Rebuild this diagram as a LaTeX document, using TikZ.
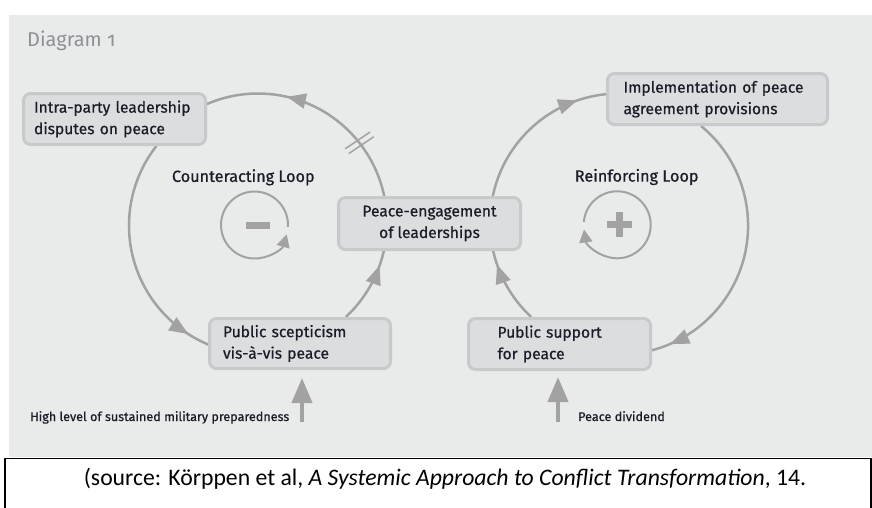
\documentclass[tikz,border=0pt]{standalone}
\usepackage{fontspec}
\setmainfont{Fira Sans}
\newfontfamily\factorfont{Fira Sans}[FakeBold=0.6]
\newfontfamily\captionfont{Carlito}
\usepackage{xcolor}
\usetikzlibrary{arrows.meta,decorations.markings,positioning}

\definecolor{panelgray}{HTML}{E9EAEA}
\definecolor{boxfill}{HTML}{DCDDDF}
\definecolor{boxline}{HTML}{C8C9CB}
\definecolor{loopgray}{HTML}{A2A2A2}
\definecolor{titlegray}{HTML}{8D9196}
\definecolor{inkblack}{HTML}{1C1C28}

\pgfdeclarelayer{background}
\pgfsetlayers{background,main}

\begin{document}
\begin{tikzpicture}[x=1pt,y=1pt,
    factor/.style={draw=boxline, line width=3pt, fill=boxfill, rounded corners=7pt,
        align=left, inner xsep=1pt, text=inkblack, font=\factorfont\fontsize{15.6}{21.5}\selectfont},
    looplabel/.style={text=inkblack, font=\factorfont\fontsize{16.2}{19}\selectfont},
    sidelabel/.style={text=inkblack, inner sep=0pt, font=\factorfont\fontsize{12.6}{15}\selectfont},
    loopline/.style={draw=loopgray, color=loopgray, line width=2.5pt},
    arrowat/.style={postaction={decorate, decoration={markings,
        mark=at position #1 with {\arrow{Triangle[length=19pt,width=15pt]}}}}},
    signline/.style={draw=loopgray, line width=2pt},
    signbar/.style={draw=loopgray, line width=7pt},
    inflow/.style={draw=loopgray, line width=4pt, -{Triangle[length=25pt,width=20pt]}}
]
\useasboundingbox (0,0) rectangle (872,-507);
\clip (0,0) rectangle (872,-507);

% factors
\node[factor, minimum width=182pt, minimum height=51pt, text width=161pt] (intra) at (114.5,-119)
    {Intra-party leadership\\disputes on peace};
\node[factor, minimum width=220pt, minimum height=51pt, text width=188pt] (impl) at (717.5,-99)
    {Implementation of peace\\agreement provisions};
\node[factor, minimum width=182pt, minimum height=52pt, align=center] (peace) at (429.5,-223.5)
    {Peace-engagement\\of leaderships};
\node[factor, minimum width=181pt, minimum height=50pt, text width=154pt] (scept) at (300,-343.5)
    {Public scepticism\\vis-à-vis peace};
\node[factor, minimum width=182pt, minimum height=51pt, text width=124pt] (support) at (559.5,-344)
    {Public support\\for peace};

\node[text=titlegray, inner sep=0pt, anchor=base west, font=\fontsize{20}{22}\selectfont] (title) at (27,-46) {Diagram \addfontfeature{Numbers=OldStyle}1};
\node[looplabel] (counterlbl) at (243.3,-177.3) {Counteracting Loop};
\node[looplabel] (reinflbl) at (636.7,-177) {Reinforcing Loop};
\node[sidelabel, anchor=base west] (milprep) at (30,-421) {High level of sustained military preparedness};
\node[sidelabel, anchor=base west] (dividend) at (578,-421) {Peace dividend};

% the two loops
\begin{pgfonlayer}{background}
\fill[panelgray] (9,-15) rectangle (872,-457);
\draw[loopline, arrowat=0.90] ([xshift=41.9]intra.south) arc[start angle=141.95, end angle=247.9, radius=129];
\draw[loopline, arrowat=0.773] ([xshift=45.8]scept.north) arc[start angle=-47.1, end angle=-11.4, radius=129];
\draw[loopline, arrowat=0.638,
    postaction={decorate, decoration={markings, mark=at position 0.253 with {
        \draw[line width=1.5pt] (-3,-15) -- (-1,15);
        \draw[line width=1.5pt] (3,-15) -- (5,15);}}}]
    ([xshift=-45.3]peace.north) arc[start angle=11.85, end angle=114, radius=129];
\draw[loopline, arrowat=0.81] ([xshift=63.3]peace.north) arc[start angle=168.15, end angle=95.1, radius=129];
\draw[loopline, arrowat=0.927] ([xshift=-16.4]impl.south) arc[start angle=50.5, end angle=-75.9, radius=129];
\draw[loopline, arrowat=0.787] ([xshift=-28.3]support.north) arc[start angle=227.1, end angle=191.4, radius=129];
\end{pgfonlayer}

% loop signs
\coordinate (negloop) at (254.5,-225);
\coordinate (posloop) at (617.2,-224.8);
\draw[signline, -{Triangle[length=13pt,width=13pt]}] (negloop) ++(-3:33.5) arc[start angle=-3, end angle=344, radius=33.5];
\draw[signbar] ([xshift=-8.7]negloop) -- ([xshift=15.3]negloop);
\draw[signline, -{Triangle[length=13pt,width=13pt]}] (posloop) ++(175:33.5) arc[start angle=175, end angle=-172, radius=33.5];
\draw[signbar] ([xshift=-10.5]posloop) -- ([xshift=14.5]posloop);
\draw[signbar] ([xshift=2.3,yshift=13.1]posloop) -- ([xshift=2.3,yshift=-12.5]posloop);

% outside influences
\coordinate (milfoot) at (302,-422);
\coordinate (divfoot) at (558,-422);
\draw[inflow, shorten >=8pt] (milfoot) -- (milfoot |- scept.south);
\draw[inflow, shorten >=6pt] (divfoot) -- (divfoot |- support.south);

% source line
\draw[line width=1.5pt] (5,-458.5) rectangle (871,-540);
\node[anchor=base, inner sep=0pt, font=\captionfont\fontsize{23.7}{26}\selectfont] (source) at (445,-485)
    {(source: Körppen et al, \textit{A Systemic Approach to Conflict Transformation}, 14.};
\end{tikzpicture}
\end{document}
